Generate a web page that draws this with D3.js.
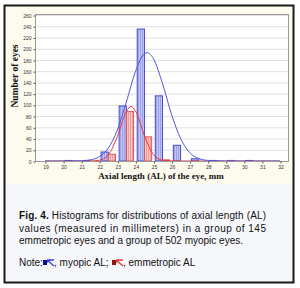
<!DOCTYPE html>
<html>
<head>
<meta charset="utf-8">
<script src="https://cdn.jsdelivr.net/npm/d3@7"></script>
<style>
  body { margin: 0; background: #fff; }
  svg { display: block; }
</style>
</head>
<body>
<div id="chart"></div>
<script>
// histogram bins (lower edge, mm)
var bins = [19, 20, 21, 22, 23, 24, 25, 26, 27, 28, 29, 30, 31];
var myopic = [0, 1, 1, 16, 98, 235, 116, 28, 4, 1, 1, 1, 0];
var emmetropic = [0, 0, 0, 12, 88, 43, 2, 0, 0, 0, 0, 0, 0];

// fitted normal curves
var blueCurveX = [19, 20, 21, 21.5, 22, 22.5, 23, 23.5, 24, 24.5, 24.65, 25, 25.5, 26, 26.5, 27, 27.5, 28, 29, 30, 31, 32];
var blueCurveY = [0, 0, 0.4, 2, 7.5, 23, 55, 105, 159, 191, 193, 182, 138, 83, 40, 15, 4.5, 1.1, 0, 0, 0, 0];
var redCurveX = [19, 20, 21, 21.5, 22, 22.5, 23, 23.5, 23.75, 24, 24.5, 25, 25.5, 26, 27, 28, 29, 30, 31, 32];
var redCurveY = [0, 0, 0, 0.1, 1.3, 10.7, 43.5, 88, 97, 89.5, 45, 11.4, 1.5, 0.1, 0, 0, 0, 0, 0, 0];

var xTicks = [19, 20, 21, 22, 23, 24, 25, 26, 27, 28, 29, 30, 31, 32];
var yTicks = [0, 20, 40, 60, 80, 100, 120, 140, 160, 180, 200, 220, 240, 260];

var captionLines = [
  ["Fig. 4.", " Histograms for distributions of axial length (AL)"],
  ["", "values (measured in millimeters) in a group of 145"],
  ["", "emmetropic eyes and a group of 502 myopic eyes."]
];

var W = 300, H = 288;
var svg = d3.select("#chart").append("svg").attr("width", W).attr("height", H);

var defs = svg.append("defs");
var pb = defs.append("pattern").attr("id", "hatchBlue").attr("patternUnits", "userSpaceOnUse")
  .attr("width", 2).attr("height", 2);
pb.append("rect").attr("width", 2).attr("height", 2).attr("fill", "#c3c6f3");
pb.append("rect").attr("width", 1).attr("height", 2).attr("fill", "#9da2ea");
var pr = defs.append("pattern").attr("id", "hatchRed").attr("patternUnits", "userSpaceOnUse")
  .attr("width", 2).attr("height", 2);
pr.append("rect").attr("width", 2).attr("height", 2).attr("fill", "#f7c6c6");
pr.append("rect").attr("width", 1).attr("height", 2).attr("fill", "#ee9f9f");

// backgrounds and frame
svg.append("rect").attr("x", 5).attr("y", 6).attr("width", 288).attr("height", 276).attr("fill", "#f6f7fb");
svg.append("rect").attr("x", 5).attr("y", 6).attr("width", 288).attr("height", 178).attr("fill", "#fdfbee");
svg.append("rect").attr("x", 4.5).attr("y", 5.5).attr("width", 289).attr("height", 277)
  .attr("fill", "none").attr("stroke", "#1a1a1a").attr("stroke-width", 2);

var x = d3.scaleLinear().domain([18.5, 32.5]).range([36, 289]);
var y = d3.scaleLinear().domain([0, 260]).range([161, 15]);

var plot = svg.append("g");
plot.append("rect").attr("x", 36).attr("y", 15).attr("width", 252).attr("height", 146).attr("fill", "#ffffff");

// grid lines
plot.selectAll(".grid").data(yTicks.slice(1)).enter().append("line")
  .attr("x1", 36).attr("x2", 288)
  .attr("y1", function(d) { return y(d) + 0.5; })
  .attr("y2", function(d) { return y(d) + 0.5; })
  .attr("stroke", "#e0e0e0").attr("stroke-width", 1);

// bars
var barData = bins.map(function(b, i) { return { bin: b, my: myopic[i], em: emmetropic[i] }; });

plot.selectAll(".barB").data(barData.filter(function(d) { return d.my > 0; })).enter().append("rect")
  .attr("x", function(d) { return x(d.bin + 0.1); })
  .attr("y", function(d) { return y(d.my); })
  .attr("width", function(d) { return x(d.bin + 0.5) - x(d.bin + 0.1); })
  .attr("height", function(d) { return y(0) - y(d.my); })
  .attr("fill", "url(#hatchBlue)").attr("stroke", "#4848c8").attr("stroke-width", 1);

plot.selectAll(".barR").data(barData.filter(function(d) { return d.em > 0; })).enter().append("rect")
  .attr("x", function(d) { return x(d.bin + 0.5); })
  .attr("y", function(d) { return y(d.em); })
  .attr("width", function(d) { return x(d.bin + 0.9) - x(d.bin + 0.5); })
  .attr("height", function(d) { return y(0) - y(d.em); })
  .attr("fill", "url(#hatchRed)").attr("stroke", "#e05656").attr("stroke-width", 1);

// fitted curves
var line = d3.line()
  .x(function(d) { return x(d[0]); })
  .y(function(d) { return y(d[1]); })
  .curve(d3.curveMonotoneX);

plot.append("path").datum(redCurveX.map(function(v, i) { return [v, redCurveY[i]]; }))
  .attr("d", line).attr("fill", "none").attr("stroke", "#e83a3a").attr("stroke-width", 1);
plot.append("path").datum(blueCurveX.map(function(v, i) { return [v, blueCurveY[i]]; }))
  .attr("d", line).attr("fill", "none").attr("stroke", "#5555e0").attr("stroke-width", 1);

// plot frame
plot.append("rect").attr("x", 35.5).attr("y", 14.5).attr("width", 253).attr("height", 147)
  .attr("fill", "none").attr("stroke", "#9a9a9a").attr("stroke-width", 1);

// axes
var yAxis = svg.append("g").attr("transform", "translate(35.5,0.5)")
  .call(d3.axisLeft(y).tickValues(yTicks).tickSize(2).tickPadding(2));
var xAxis = svg.append("g").attr("transform", "translate(0.5,161.5)")
  .call(d3.axisBottom(x).tickValues(xTicks).tickSize(2).tickPadding(2));
[yAxis, xAxis].forEach(function(ax) {
  ax.select(".domain").remove();
  ax.selectAll("line").attr("stroke", "#555");
  ax.selectAll("text").attr("font-family", "Liberation Sans, Arial, sans-serif")
    .attr("font-size", "5px").attr("fill", "#333");
});

// axis titles
svg.append("text")
  .attr("transform", "translate(18,76) rotate(-90)")
  .attr("text-anchor", "middle")
  .attr("font-family", "Liberation Serif, Times New Roman, serif")
  .attr("font-weight", "bold").attr("font-size", "9.5px").attr("fill", "#111")
  .text("Number of eyes");
svg.append("text")
  .attr("x", 161).attr("y", 179)
  .attr("text-anchor", "middle")
  .attr("font-family", "Liberation Serif, Times New Roman, serif")
  .attr("font-weight", "bold").attr("font-size", "9px").attr("fill", "#111")
  .text("Axial length (AL) of the eye, mm");

// caption
var capY = [219, 232, 244];
captionLines.forEach(function(parts, i) {
  var t = svg.append("text")
    .attr("x", 19).attr("y", capY[i])
    .attr("font-family", "Liberation Sans, Arial, sans-serif")
    .attr("font-size", "10px").attr("fill", "#111");
  if (i < 2) t.attr("textLength", 247).attr("lengthAdjust", "spacing");
  if (parts[0]) t.append("tspan").attr("font-weight", "bold").text(parts[0]);
  t.append("tspan").text(parts[1]);
});

// note line with legend symbols
var noteFont = function(sel) {
  return sel.attr("font-family", "Liberation Sans, Arial, sans-serif")
    .attr("font-size", "10px").attr("fill", "#111");
};
noteFont(svg.append("text").attr("x", 19).attr("y", 266).text("Note:"));
noteFont(svg.append("text").attr("x", 54).attr("y", 266).text(", myopic AL;"));
noteFont(svg.append("text").attr("x", 123).attr("y", 266).text(", emmetropic AL"));

function legendIcon(x0, dark, light) {
  var g = svg.append("g").attr("transform", "translate(" + x0 + ",259)");
  g.append("rect").attr("x", 0).attr("y", 1).attr("width", 4).attr("height", 5).attr("fill", dark);
  g.append("path").attr("d", "M4,1 L11,1 M4,1 L11,7")
    .attr("stroke", light).attr("stroke-width", 1.4).attr("fill", "none");
  g.append("path").attr("d", "M4,1 L8,1 L4,4 Z").attr("fill", light);
}
legendIcon(43, "#10108a", "#3a3af0");
legendIcon(112, "#9a1010", "#f03a3a");
</script>
</body>
</html>
